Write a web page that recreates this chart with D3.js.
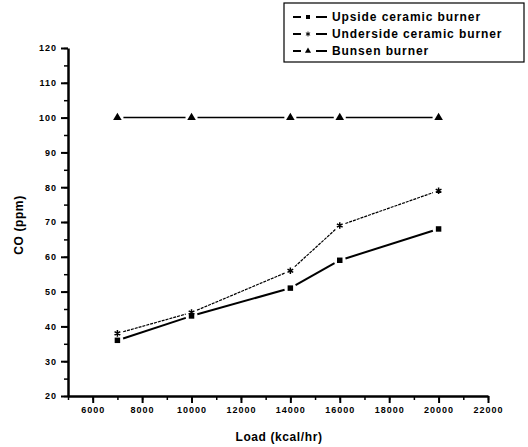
<!DOCTYPE html>
<html>
<head>
<meta charset="utf-8">
<script src="https://cdn.jsdelivr.net/npm/d3@7"></script>
<style>
  body { margin: 0; background: #fff; }
  text { font-family: "Liberation Sans", Arial, sans-serif; fill: #000; }
</style>
</head>
<body>
<div id="chart"></div>
<script>
// data
var loads = [7000, 10000, 14000, 16000, 20000];
var upside = [36, 43, 51, 59, 68];
var underside = [38, 44, 56, 69, 79];
var bunsen = [100, 100, 100, 100, 100];
var seriesNames = ["Upside ceramic burner", "Underside ceramic burner", "Bunsen burner"];
var xTicks = [6000, 8000, 10000, 12000, 14000, 16000, 18000, 20000, 22000];
var yTicks = [20, 30, 40, 50, 60, 70, 80, 90, 100, 110, 120];

var width = 528, height = 447;

var svg = d3.select("#chart").append("svg")
  .attr("width", width)
  .attr("height", height);

var x = d3.scaleLinear().domain([5000, 22000]).range([68, 488]);
var y = d3.scaleLinear().domain([20, 120]).range([396, 48]);

// minor ticks
svg.append("g")
  .attr("transform", "translate(0,396)")
  .call(d3.axisBottom(x).tickValues(d3.range(5000, 22001, 1000)).tickSize(4).tickFormat(""))
  .call(g => g.select(".domain").remove())
  .selectAll("line").attr("stroke-width", 1.5);
svg.append("g")
  .attr("transform", "translate(68,0)")
  .call(d3.axisLeft(y).tickValues(d3.range(20, 121, 5)).tickSize(4).tickFormat(""))
  .call(g => g.select(".domain").remove())
  .selectAll("line").attr("stroke-width", 1.5);

// major ticks + labels
var xAxis = svg.append("g")
  .attr("transform", "translate(0,396)")
  .call(d3.axisBottom(x).tickValues(xTicks).tickSize(7).tickSizeOuter(0).tickPadding(4).tickFormat(d3.format("d")));
var yAxis = svg.append("g")
  .attr("transform", "translate(68,0)")
  .call(d3.axisLeft(y).tickValues(yTicks).tickSize(7).tickSizeOuter(0).tickPadding(4).tickFormat(d3.format("d")));

[xAxis, yAxis].forEach(function (g) {
  g.select(".domain").attr("stroke-width", 2.5);
  g.selectAll("line").attr("stroke-width", 2);
  g.selectAll("text")
    .style("font-size", "9px")
    .style("font-weight", "bold")
    .style("letter-spacing", "1px")
    .style("font-family", "'Liberation Sans', Arial, sans-serif");
});

// line segments with small gaps near markers
function drawSeries(vals, strokeW, dash) {
  var pts = loads.map(function (l, i) { return [x(l), y(vals[i])]; });
  var gap = 6;
  for (var i = 0; i < pts.length - 1; i++) {
    var p = pts[i], q = pts[i + 1];
    var dx = q[0] - p[0], dy = q[1] - p[1];
    var len = Math.sqrt(dx * dx + dy * dy);
    var ux = dx / len, uy = dy / len;
    svg.append("line")
      .attr("x1", p[0] + ux * gap).attr("y1", p[1] + uy * gap)
      .attr("x2", q[0] - ux * gap).attr("y2", q[1] - uy * gap)
      .attr("stroke", "#000")
      .attr("stroke-width", strokeW)
      .attr("stroke-dasharray", dash);
  }
  return pts;
}

var sq = d3.symbol().type(d3.symbolSquare).size(30);
var star = d3.symbol().type(d3.symbolAsterisk).size(30);
var tri = d3.symbol().type(d3.symbolTriangle).size(32);

var p1 = drawSeries(upside, 2, null);
var p2 = drawSeries(underside, 1.2, "3,1");
var p3 = drawSeries(bunsen, 1.5, null);

svg.selectAll(".m1").data(p1).enter().append("path")
  .attr("d", sq).attr("transform", d => "translate(" + d + ")");
svg.selectAll(".m2").data(p2).enter().append("path")
  .attr("d", star).attr("stroke", "#000").attr("stroke-width", 1.5)
  .attr("transform", d => "translate(" + d + ")");
svg.selectAll(".m3").data(p3).enter().append("path")
  .attr("d", tri).attr("transform", d => "translate(" + d + ")");

// axis titles
svg.append("text")
  .attr("x", 279).attr("y", 441)
  .attr("text-anchor", "middle")
  .style("font-size", "12px")
  .style("font-weight", "bold")
  .style("letter-spacing", "0.6px")
  .text("Load (kcal/hr)");
svg.append("text")
  .attr("transform", "translate(23,225) rotate(-90)")
  .attr("text-anchor", "middle")
  .style("font-size", "12px")
  .style("font-weight", "bold")
  .style("letter-spacing", "0.6px")
  .text("CO (ppm)");

// legend
var legend = svg.append("g");
legend.append("rect")
  .attr("x", 284).attr("y", 3).attr("width", 240).attr("height", 59)
  .attr("fill", "none").attr("stroke", "#000").attr("stroke-width", 1.2);
var legTypes = [d3.symbolSquare, d3.symbolAsterisk, d3.symbolTriangle];
seriesNames.forEach(function (name, i) {
  var ly = 17 + i * 17;
  legend.append("line")
    .attr("x1", 293).attr("x2", 301).attr("y1", ly).attr("y2", ly)
    .attr("stroke", "#000").attr("stroke-width", 2);
  legend.append("line")
    .attr("x1", 316).attr("x2", 327).attr("y1", ly).attr("y2", ly)
    .attr("stroke", "#000").attr("stroke-width", 2);
  legend.append("path")
    .attr("d", d3.symbol().type(legTypes[i]).size(16))
    .attr("stroke", i === 1 ? "#000" : null)
    .attr("transform", "translate(308," + ly + ")");
  legend.append("text")
    .attr("x", 332).attr("y", ly + 4)
    .style("font-size", "12px")
    .style("font-weight", "bold")
    .style("letter-spacing", "0.9px")
    .text(name);
});
</script>
</body>
</html>
